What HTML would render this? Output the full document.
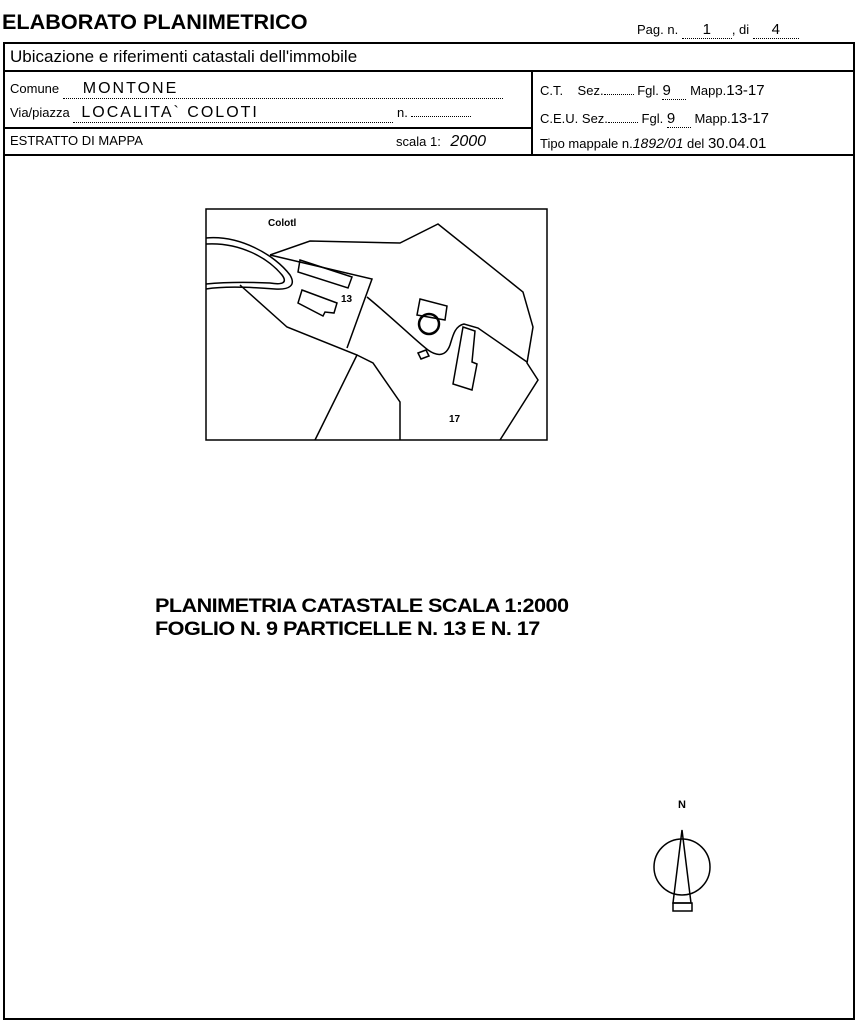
<!DOCTYPE html>
<html><head><meta charset="utf-8"><style>
body{margin:0;width:856px;height:1024px;background:#fff;position:relative;font-family:"Liberation Sans",sans-serif;color:#000;overflow:hidden}
.a{position:absolute;white-space:nowrap}
.hw{font-family:"Liberation Sans",sans-serif;letter-spacing:2px}
.dot{border-bottom:1px dotted #000;display:inline-block}
</style></head><body>
<div class="a" style="left:2px;top:11px;font-size:21px;font-weight:bold;transform:scaleX(1.03);transform-origin:left">ELABORATO PLANIMETRICO</div>
<div class="a" style="left:637px;top:21px;font-size:13px">Pag. n. <span class="dot" style="width:50px;text-align:center;font-size:15px">1</span>, di <span class="dot" style="width:46px;text-align:center;font-size:15px">4</span></div>

<div class="a" style="left:3px;top:42px;width:848px;height:974px;border:2px solid #000"></div>
<div class="a" style="left:3px;top:70px;width:850px;border-top:2px solid #000"></div>
<div class="a" style="left:3px;top:127px;width:530px;border-top:2px solid #000"></div>
<div class="a" style="left:3px;top:154px;width:850px;border-top:2px solid #000"></div>
<div class="a" style="left:531px;top:70px;height:85px;border-left:2px solid #000"></div>

<div class="a" style="left:10px;top:47px;font-size:17px">Ubicazione e riferimenti catastali dell'immobile</div>
<div class="a" style="left:10px;top:80px;font-size:13px">Comune <span class="dot" style="width:440px"><span class="hw" style="font-size:16px;margin-left:20px">MONTONE</span></span></div>
<div class="a" style="left:10px;top:104px;font-size:13px">Via/piazza <span class="dot" style="width:320px"><span class="hw" style="font-size:16px;margin-left:8px">LOCALITA` COLOTI</span></span> n. <span class="dot" style="width:60px"></span></div>
<div class="a" style="left:10px;top:133px;font-size:13px">ESTRATTO DI MAPPA</div>
<div class="a" style="left:396px;top:133px;font-size:13px">scala 1: <span style="font-size:16px;margin-left:6px;font-style:italic">2000</span></div>

<div class="a" style="left:540px;top:82px;font-size:13px">C.T.&nbsp;&nbsp;&nbsp; Sez.<span class="dot" style="width:30px"></span> Fgl. <span class="dot" style="width:24px;font-size:15px">9</span> Mapp.<span style="font-size:15px">13-17</span></div>
<div class="a" style="left:540px;top:110px;font-size:13px">C.E.U. Sez.<span class="dot" style="width:30px"></span> Fgl. <span class="dot" style="width:24px;font-size:15px">9</span> Mapp.<span style="font-size:15px">13-17</span></div>
<div class="a" style="left:540px;top:135px;font-size:13px">Tipo mappale n.<i style="font-size:14px">1892/01</i> del <span style="font-size:15px">30.04.01</span></div>

<svg class="a" style="left:0;top:0" width="856" height="1024" fill="none" stroke="#000" stroke-width="1.5">
<rect x="206" y="209" width="341" height="231"/>
<text x="268" y="226" font-size="10" font-weight="bold" fill="#000" stroke="none" font-family="Liberation Sans">Colotl</text>
<path d="M206 238 C240 235 275 255 290 275 C296 285 290 290 275 289 C250 287 225 286 206 289"/>
<path d="M206 244 C240 242 268 258 282 275 C288 283 282 285 270 283 C248 282 226 282 206 284"/>
<path d="M270 255 L310 241 L400 243 L438 224 L523 292 L533 327 L527 363 L538 380 L500 440"/>
<path d="M270 255 L372 279 L347 348"/>
<path d="M240 285 L287 327 L357 355 L315 440"/>
<path d="M357 355 L373 363 L400 402 L400 440"/>
<path d="M367 297 C395 320 415 340 428 350 C438 357 446 356 450 345 C453 335 455 326 464 324 L478 328 L527 362"/>
<path d="M300 260 L352 277 L348 288 L298 272 Z"/>
<path d="M302 290 L337 303 L334 313 L325 312 L323 316 L298 303 Z"/>
<path d="M420 299 L447 306 L445 320 L417 315 Z"/>
<circle cx="429" cy="324" r="10" stroke-width="2.5"/>
<path d="M418 353 L426 350 L429 356 L421 359 Z"/>
<path d="M463 327 L475 331 L472 362 L477 364 L472 390 L453 384 Z"/>
<text x="341" y="302" font-size="10" font-weight="bold" fill="#000" stroke="none" font-family="Liberation Sans">13</text>
<text x="449" y="422" font-size="10" font-weight="bold" fill="#000" stroke="none" font-family="Liberation Sans">17</text>
<text x="678" y="808" font-size="11" font-weight="bold" fill="#000" stroke="none" font-family="Liberation Sans">N</text>
<circle cx="682" cy="867" r="28"/>
<path d="M682 830 L673 903 L691 903 Z"/>
<rect x="673" y="903" width="19" height="8"/>
</svg>

<div class="a" style="left:155px;top:595px;font-size:19px;font-weight:bold;line-height:23px;transform:scaleX(1.14);transform-origin:left;letter-spacing:-0.5px">PLANIMETRIA CATASTALE SCALA 1:2000<br>FOGLIO N. 9 PARTICELLE N. 13 E N. 17</div>
</body></html>
